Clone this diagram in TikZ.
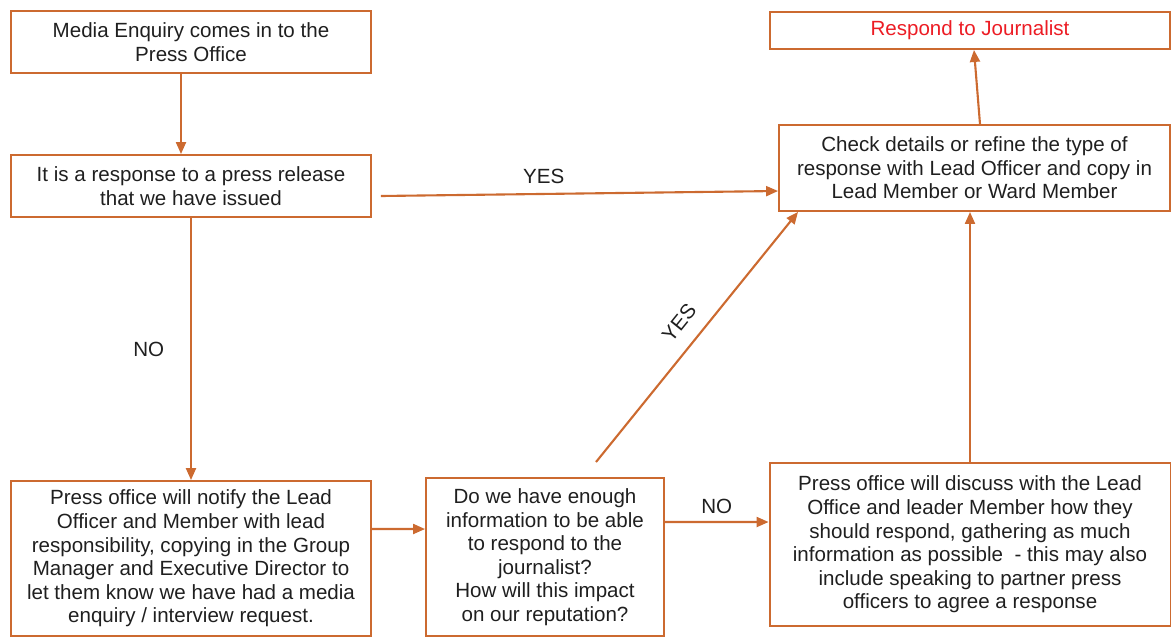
\documentclass[tikz,border=0pt]{standalone}
\usepackage{fontspec}
\setmainfont{Liberation Sans}
\usetikzlibrary{arrows.meta,positioning}
\definecolor{boxorange}{RGB}{204,106,48}
\definecolor{replyred}{RGB}{236,28,36}

\begin{document}
\begin{tikzpicture}[x=0.02cm,y=-0.02cm]
    \tikzstyle{block} = [rectangle, draw=boxorange, line width=1.1pt, align=center,
        text=black!88, font=\fontsize{11.7}{13.4}\selectfont, inner sep=2pt]
    \tikzstyle{line} = [draw=boxorange, line width=1.2pt,
        -{Triangle[length=2.4mm,width=2mm]}]
    \tikzstyle{answer} = [text=black!88, font=\fontsize{11.7}{13.4}\selectfont]
    \useasboundingbox (0,0) rectangle (1171,637);

    % left column
    \node[block, minimum width=7.2cm, minimum height=1.24cm] (enquiry) at (191,42)
        {Media Enquiry comes in to the\\Press Office};
    \node[block, minimum width=7.2cm, minimum height=1.24cm] (release) at (191,186)
        {It is a response to a press release\\that we have issued};
    \node[block, minimum width=7.2cm, minimum height=3.1cm] (notify) at (191,558.5)
        {Press office will notify the Lead\\Officer and Member with lead\\
         responsibility, copying in the Group\\Manager and Executive Director to\\
         let them know we have had a media\\enquiry / interview request.};
    % middle
    \node[block, minimum width=4.76cm, minimum height=3.16cm] (enough) at (545,557)
        {Do we have enough\\information to be able\\to respond to the\\journalist?\\
         How will this impact\\on our reputation?};
    % right column
    \node[block, minimum width=8cm, minimum height=0.74cm, text=replyred] (respond)
        at (970,30.5) {Respond to Journalist};
    \node[block, minimum width=7.82cm, minimum height=1.72cm] (check) at (974.5,168)
        {Check details or refine the type of\\response with Lead Officer and copy in\\
         Lead Member or Ward Member};
    \node[block, minimum width=8.02cm, minimum height=3.26cm] (discuss) at (970,544.5)
        {Press office will discuss with the Lead\\Office and leader Member how they\\
         should respond, gathering as much\\information as possible\ \ - this may also\\
         include speaking to partner press\\officers to agree a response};

    \draw[line] ([xshift=-0.2cm]enquiry.south) -- ([xshift=-0.2cm]release.north);
    \draw[line] (release.south) -- node[answer, left=0.4cm] {NO} (notify.north);
    \draw[line] ([xshift=0.18cm,yshift=-0.2cm]release.east) --
        node[answer, pos=0.41, above=2pt] {YES} ([yshift=-0.46cm]check.west);
    \draw[line] ([yshift=0.59cm]notify.east) -- ([yshift=0.56cm]enough.west);
    \draw[line] ([yshift=0.7cm]enough.east) --
        node[answer, above=1pt] {NO} ([yshift=0.45cm]discuss.west);
    \draw[line] ([xshift=1.02cm,yshift=0.3cm]enough.north) --
        node[answer, sloped, above=5pt] {YES} ([xshift=-3.53cm]check.south);
    \draw[line] (discuss.north) -- (discuss.north |- check.south);
    \draw[line] ([xshift=0.11cm]check.north) -- ([xshift=0.08cm]respond.south);
\end{tikzpicture}
\end{document}
